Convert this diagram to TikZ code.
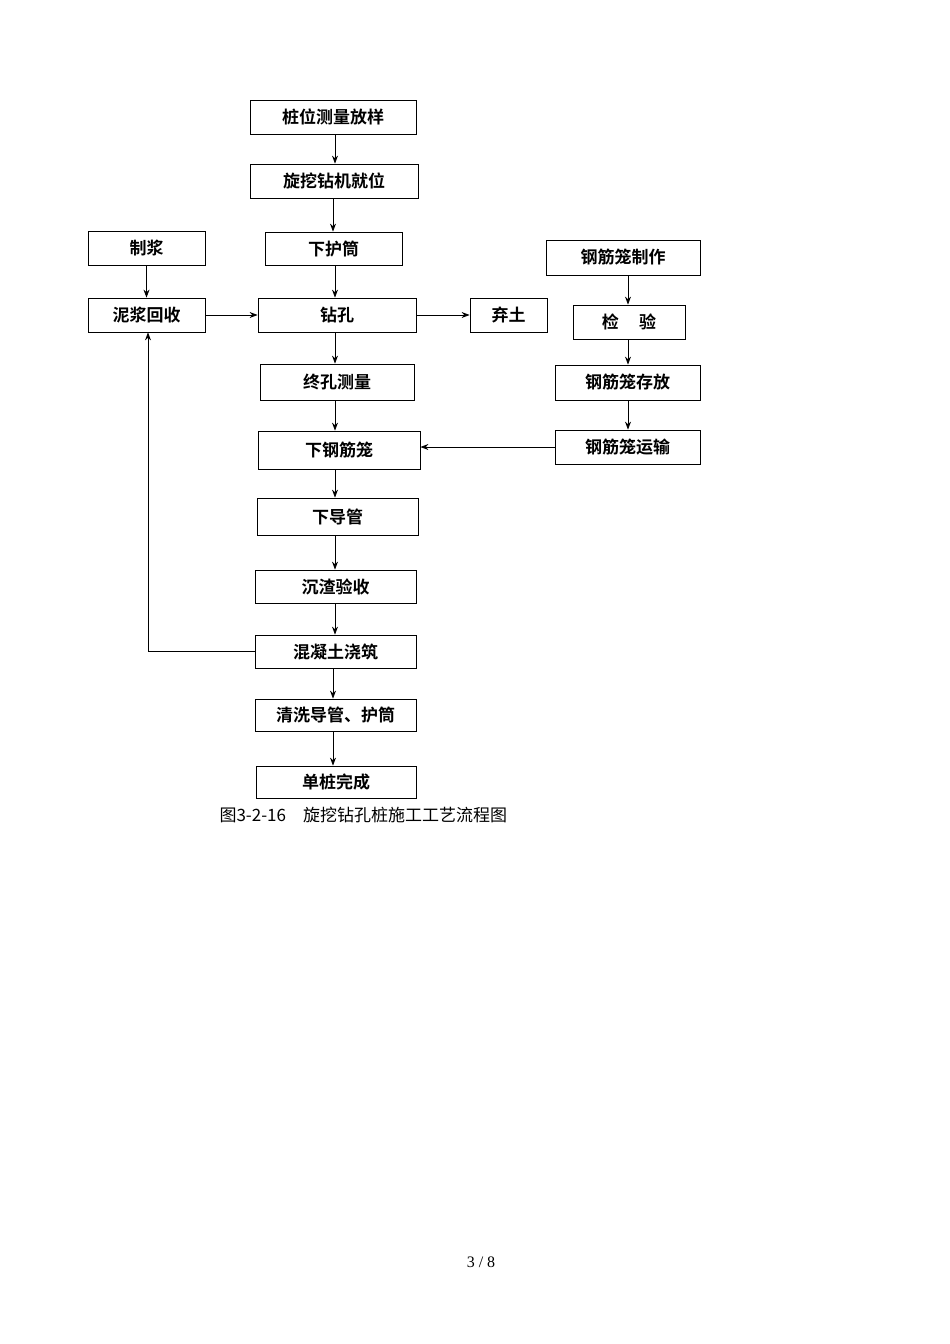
\documentclass[tikz,border=0pt]{standalone}
\usepackage{fontspec}
\setmainfont{Liberation Serif}
\newfontfamily\cjk{Noto Sans CJK SC}
\newfontfamily\cjkb{Noto Sans CJK SC Bold}
\usetikzlibrary{arrows.meta}
\begin{document}
\begin{tikzpicture}[x=1pt,y=-1pt,
  box/.style={draw,line width=0.8pt,inner sep=0pt,font=\cjkb\fontsize{17}{17}\selectfont},
  arr/.style={draw,line width=0.9pt,-{Stealth[length=8pt,width=6pt]}}]
\useasboundingbox (0,0) rectangle (950,1344);
\newcommand\bx[6]{\node[box,minimum width=#4-#2,minimum height=#5-#3] (#1) at ({(#2+#4)/2},{(#3+#5)/2}) {#6};}
\bx{a}{250}{100}{416}{134}{桩位测量放样}
\bx{b}{250}{164}{418}{198}{旋挖钻机就位}
\bx{c}{265}{232}{402}{265}{下护筒}
\bx{zj}{88}{231}{205}{265}{制浆}
\bx{hs}{88}{298}{205}{332}{泥浆回收}
\bx{zk}{258}{298}{416}{332}{钻孔}
\bx{qt}{470}{298}{547}{332}{弃土}
\bx{g1}{546}{240}{700}{275}{钢筋笼制作}
\bx{g2}{573}{305}{685}{339}{检\hspace{1.2em}验}
\bx{g3}{555}{365}{700}{400}{钢筋笼存放}
\bx{g4}{555}{430}{700}{464}{钢筋笼运输}
\bx{zc}{260}{364}{414}{400}{终孔测量}
\bx{xg}{258}{431}{420}{469}{下钢筋笼}
\bx{dg}{257}{498}{418}{535}{下导管}
\bx{cz}{255}{570}{416}{603}{沉渣验收}
\bx{hn}{255}{635}{416}{668}{混凝土浇筑}
\bx{qx}{255}{699}{416}{731}{清洗导管、护筒}
\bx{dz}{256}{766}{416}{798}{单桩完成}
\node[font=\cjk\fontsize{17}{17}\selectfont,anchor=west] (cap) at (216,815) {图3-2-16\hspace{1em}旋挖钻孔桩施工工艺流程图};
\node[font=\fontsize{16}{16}\selectfont] (pg) at (481,1262) {3 / 8};
\draw[arr] (a.south -| 335,0) -- (b.north -| 335,0);
\draw[arr] (b.south -| 333,0) -- (c.north -| 333,0);
\draw[arr] (c.south -| 335,0) -- (zk.north -| 335,0);
\draw[arr] (zj) -- (hs);
\draw[arr] (hs) -- (zk);
\draw[arr] (zk) -- (qt);
\draw[arr] (zk.south -| 335,0) -- (zc.north -| 335,0);
\draw[arr] (zc.south -| 335,0) -- (xg.north -| 335,0);
\draw[arr] (g4.west |- 0,447) -- (xg.east |- 0,447);
\draw[arr] (g1.south -| 628,0) -- (g2.north -| 628,0);
\draw[arr] (g2.south -| 628,0) -- (g3.north -| 628,0);
\draw[arr] (g3.south -| 628,0) -- (g4.north -| 628,0);
\draw[arr] (xg.south -| 335,0) -- (dg.north -| 335,0);
\draw[arr] (dg.south -| 335,0) -- (cz.north -| 335,0);
\draw[arr] (cz.south -| 335,0) -- (hn.north -| 335,0);
\draw[arr] (hn.south -| 333,0) -- (qx.north -| 333,0);
\draw[arr] (qx.south -| 333,0) -- (dz.north -| 333,0);
\draw[arr] (hn.west |- 0,651) -- (148,651) -- (hs.south -| 148,0);
\end{tikzpicture}
\end{document}
